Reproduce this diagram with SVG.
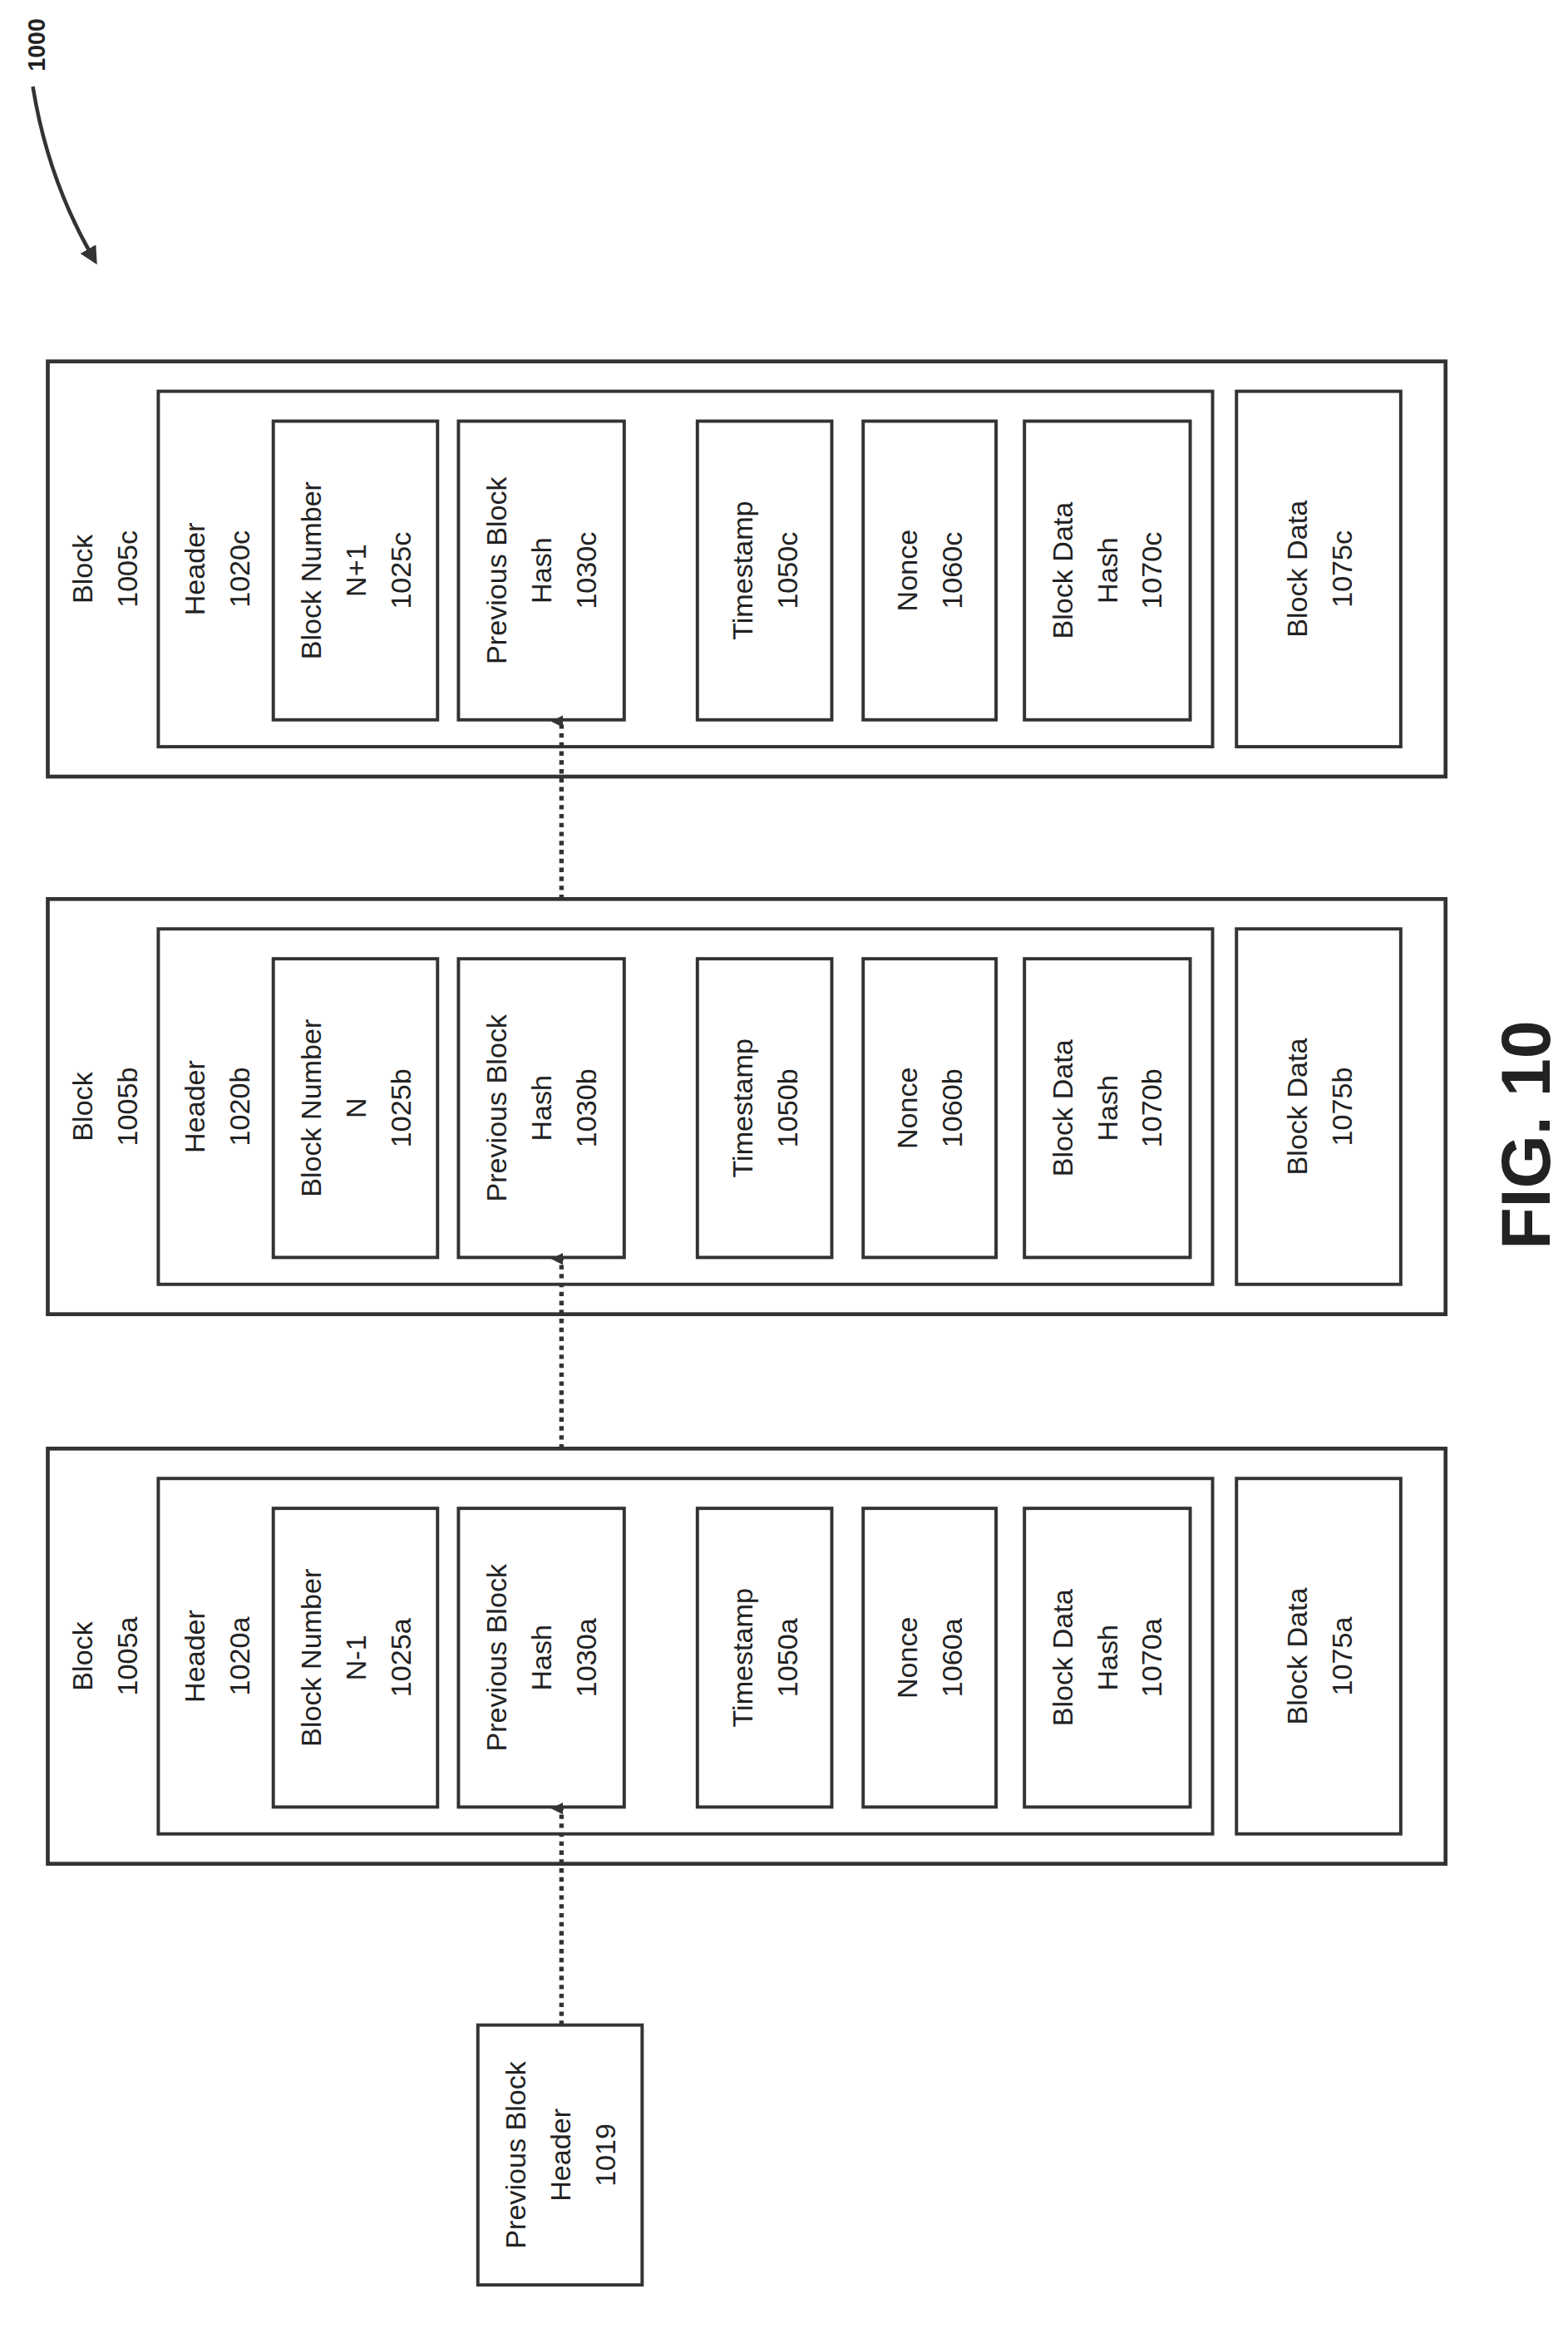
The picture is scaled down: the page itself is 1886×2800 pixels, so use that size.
<svg xmlns="http://www.w3.org/2000/svg" width="1886" height="2800" viewBox="0 0 1886 2800">
<style>
rect{fill:#fff;stroke:#333;stroke-width:2.2}
.o{stroke-width:2.6}
text{font-family:"Liberation Sans",Arial,sans-serif;font-size:19px;fill:#222;text-anchor:middle}
.f{font-size:46px;font-weight:bold}
.c{stroke:#333;stroke-width:3;stroke-dasharray:3,3;fill:none}
</style>
<defs>
<marker id="ah" markerWidth="8" markerHeight="8" refX="4" refY="7" orient="auto-start-reverse" markerUnits="userSpaceOnUse" viewBox="0 0 8 8"><path d="M0,8 L4,0 L8,8 z" fill="#333"/></marker>
<marker id="ah2" markerWidth="12" markerHeight="12" refX="6" refY="6" orient="auto" markerUnits="userSpaceOnUse" viewBox="0 0 12 12"><path d="M0,0 L12,6 L0,12 z" fill="#333"/></marker>
</defs>
<rect width="1886" height="2800" style="fill:#fff;stroke:none"/>
<g transform="scale(1.7962)">
<g id="label1000">
<text transform="translate(30,30) rotate(-90)" style="font-size:16px;font-weight:bold">1000</text>
<path d="M22,58 Q32,120 62,172" stroke="#333" stroke-width="2.5" fill="none" marker-end="url(#ah2)"/>
</g>
<g id="fig"><text class="f" transform="translate(1038,760) rotate(-90)">FIG. 10</text></g>

<g id="block1005c">
<rect class="o" x="32" y="242" width="936" height="278"/>
<rect x="106" y="262" width="706" height="238"/>
<rect x="183" y="282" width="110" height="200"/>
<rect x="307" y="282" width="111" height="200"/>
<rect x="467" y="282" width="90" height="200"/>
<rect x="578" y="282" width="89" height="200"/>
<rect x="686" y="282" width="111" height="200"/>
<rect x="828" y="262" width="110" height="238"/>
<text transform="translate(0,381) rotate(-90)"><tspan x="0" y="62">Block</tspan><tspan x="0" y="92">1005c</tspan></text>
<text transform="translate(0,381) rotate(-90)"><tspan x="0" y="137">Header</tspan><tspan x="0" y="167">1020c</tspan></text>
<text transform="translate(0,382) rotate(-90)"><tspan x="0" y="215">Block Number</tspan><tspan x="0" y="245">N+1</tspan><tspan x="0" y="275">1025c</tspan></text>
<text transform="translate(0,382) rotate(-90)"><tspan x="0" y="339">Previous Block</tspan><tspan x="0" y="369">Hash</tspan><tspan x="0" y="399">1030c</tspan></text>
<text transform="translate(0,382) rotate(-90)"><tspan x="0" y="504">Timestamp</tspan><tspan x="0" y="534">1050c</tspan></text>
<text transform="translate(0,382) rotate(-90)"><tspan x="0" y="614">Nonce</tspan><tspan x="0" y="644">1060c</tspan></text>
<text transform="translate(0,382) rotate(-90)"><tspan x="0" y="718">Block Data</tspan><tspan x="0" y="748">Hash</tspan><tspan x="0" y="778">1070c</tspan></text>
<text transform="translate(0,381) rotate(-90)"><tspan x="0" y="875">Block Data</tspan><tspan x="0" y="905">1075c</tspan></text>
</g>

<g id="block1005b" transform="translate(0,360)">
<rect class="o" x="32" y="242" width="936" height="278"/>
<rect x="106" y="262" width="706" height="238"/>
<rect x="183" y="282" width="110" height="200"/>
<rect x="307" y="282" width="111" height="200"/>
<rect x="467" y="282" width="90" height="200"/>
<rect x="578" y="282" width="89" height="200"/>
<rect x="686" y="282" width="111" height="200"/>
<rect x="828" y="262" width="110" height="238"/>
<text transform="translate(0,381) rotate(-90)"><tspan x="0" y="62">Block</tspan><tspan x="0" y="92">1005b</tspan></text>
<text transform="translate(0,381) rotate(-90)"><tspan x="0" y="137">Header</tspan><tspan x="0" y="167">1020b</tspan></text>
<text transform="translate(0,382) rotate(-90)"><tspan x="0" y="215">Block Number</tspan><tspan x="0" y="245">N</tspan><tspan x="0" y="275">1025b</tspan></text>
<text transform="translate(0,382) rotate(-90)"><tspan x="0" y="339">Previous Block</tspan><tspan x="0" y="369">Hash</tspan><tspan x="0" y="399">1030b</tspan></text>
<text transform="translate(0,382) rotate(-90)"><tspan x="0" y="504">Timestamp</tspan><tspan x="0" y="534">1050b</tspan></text>
<text transform="translate(0,382) rotate(-90)"><tspan x="0" y="614">Nonce</tspan><tspan x="0" y="644">1060b</tspan></text>
<text transform="translate(0,382) rotate(-90)"><tspan x="0" y="718">Block Data</tspan><tspan x="0" y="748">Hash</tspan><tspan x="0" y="778">1070b</tspan></text>
<text transform="translate(0,381) rotate(-90)"><tspan x="0" y="875">Block Data</tspan><tspan x="0" y="905">1075b</tspan></text>
</g>

<g id="block1005a" transform="translate(0,728)">
<rect class="o" x="32" y="242" width="936" height="278"/>
<rect x="106" y="262" width="706" height="238"/>
<rect x="183" y="282" width="110" height="200"/>
<rect x="307" y="282" width="111" height="200"/>
<rect x="467" y="282" width="90" height="200"/>
<rect x="578" y="282" width="89" height="200"/>
<rect x="686" y="282" width="111" height="200"/>
<rect x="828" y="262" width="110" height="238"/>
<text transform="translate(0,381) rotate(-90)"><tspan x="0" y="62">Block</tspan><tspan x="0" y="92">1005a</tspan></text>
<text transform="translate(0,381) rotate(-90)"><tspan x="0" y="137">Header</tspan><tspan x="0" y="167">1020a</tspan></text>
<text transform="translate(0,382) rotate(-90)"><tspan x="0" y="215">Block Number</tspan><tspan x="0" y="245">N-1</tspan><tspan x="0" y="275">1025a</tspan></text>
<text transform="translate(0,382) rotate(-90)"><tspan x="0" y="339">Previous Block</tspan><tspan x="0" y="369">Hash</tspan><tspan x="0" y="399">1030a</tspan></text>
<text transform="translate(0,382) rotate(-90)"><tspan x="0" y="504">Timestamp</tspan><tspan x="0" y="534">1050a</tspan></text>
<text transform="translate(0,382) rotate(-90)"><tspan x="0" y="614">Nonce</tspan><tspan x="0" y="644">1060a</tspan></text>
<text transform="translate(0,382) rotate(-90)"><tspan x="0" y="718">Block Data</tspan><tspan x="0" y="748">Hash</tspan><tspan x="0" y="778">1070a</tspan></text>
<text transform="translate(0,381) rotate(-90)"><tspan x="0" y="875">Block Data</tspan><tspan x="0" y="905">1075a</tspan></text>
</g>

<g id="prevheader1019">
<rect x="320" y="1356" width="110" height="174"/>
<text transform="translate(0,1443) rotate(-90)"><tspan x="0" y="352">Previous Block</tspan><tspan x="0" y="382">Header</tspan><tspan x="0" y="412">1019</tspan></text>
</g>

<g id="connectors">
<path class="c" d="M376,1356 V1211" marker-end="url(#ah)"/>
<path class="c" d="M376,970 V843" marker-end="url(#ah)"/>
<path class="c" d="M376,602 V483" marker-end="url(#ah)"/>
</g>
</g>
</svg>
